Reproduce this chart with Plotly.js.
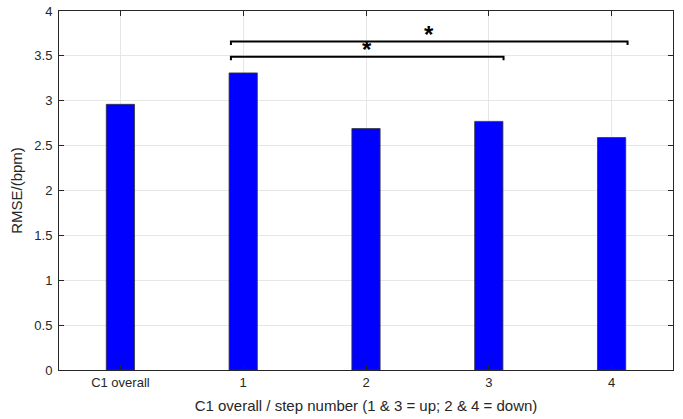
<!DOCTYPE html>
<html>
<head>
<meta charset="utf-8">
<script src="https://cdn.plot.ly/plotly-3.0.1.min.js"></script>
<style>html,body{margin:0;padding:0;background:#fff;}#chart{width:683px;height:419px;}</style>
</head>
<body>
<div id="chart"></div>
<script>
// Data
const categories = ["C1 overall", "1", "2", "3", "4"];
const rmse = [2.96, 3.31, 2.69, 2.77, 2.59];
// Significance brackets: start / end (category position) and height
const sigStart = [0.9, 0.9];
const sigEnd = [4.13, 3.12];
const sigLevel = [3.66, 3.49];
const sigLabel = ["*", "*"];
const yTicks = [0, 0.5, 1, 1.5, 2, 2.5, 3, 3.5, 4];

const xIdx = categories.map((c, i) => i);

const traces = [{
  type: 'bar',
  x: xIdx,
  y: rmse,
  width: 0.23,
  marker: {color: '#0000ff', line: {color: '#333333', width: 0.8}},
  hoverinfo: 'none'
}];

const drop = 0.04;
const annotations = [];
for (let k = 0; k < sigStart.length; k++) {
  traces.push({
    type: 'scatter', mode: 'lines',
    x: [sigStart[k], sigStart[k], sigEnd[k], sigEnd[k]],
    y: [sigLevel[k] - drop, sigLevel[k], sigLevel[k], sigLevel[k] - drop],
    line: {color: '#000', width: 2},
    hoverinfo: 'none'
  });
  annotations.push({
    x: (sigStart[k] + sigEnd[k]) / 2, y: sigLevel[k],
    xref: 'x', yref: 'y', text: '<b>' + sigLabel[k] + '</b>', showarrow: false,
    yanchor: 'bottom', yshift: -8,
    font: {family: 'Liberation Sans, Arial, sans-serif', size: 24, color: '#000'}
  });
}

const layout = {
  width: 683, height: 419,
  margin: {l: 59, r: 10, t: 11, b: 49},
  paper_bgcolor: '#fff', plot_bgcolor: '#fff',
  showlegend: false,
  font: {family: 'Liberation Sans, Arial, sans-serif', color: '#262626', size: 13},
  xaxis: {
    range: [-0.5, 4.5],
    tickvals: xIdx, ticktext: categories,
    showgrid: true, gridcolor: '#e6e6e6', gridwidth: 1,
    ticks: 'inside', ticklen: 5, tickcolor: '#262626',
    showline: true, linecolor: '#262626', linewidth: 1, mirror: 'ticks',
    zeroline: false,
    tickfont: {size: 13, color: '#262626'},
    title: {text: 'C1 overall / step number (1 & 3 = up; 2 & 4 = down)', font: {size: 15, color: '#262626'}, standoff: 11}
  },
  yaxis: {
    range: [0, 4],
    tickvals: yTicks, ticktext: yTicks.map(String),
    showgrid: true, gridcolor: '#e6e6e6', gridwidth: 1,
    ticks: 'inside', ticklen: 5, tickcolor: '#262626',
    showline: true, linecolor: '#262626', linewidth: 1, mirror: 'ticks',
    zeroline: false,
    ticklabelstandoff: 3,
    tickfont: {size: 13, color: '#262626'},
    title: {text: 'RMSE/(bpm)', font: {size: 15, color: '#262626'}, standoff: 8}
  },
  annotations: annotations
};

Plotly.newPlot('chart', traces, layout, {displayModeBar: false, staticPlot: true});
</script>
</body>
</html>
